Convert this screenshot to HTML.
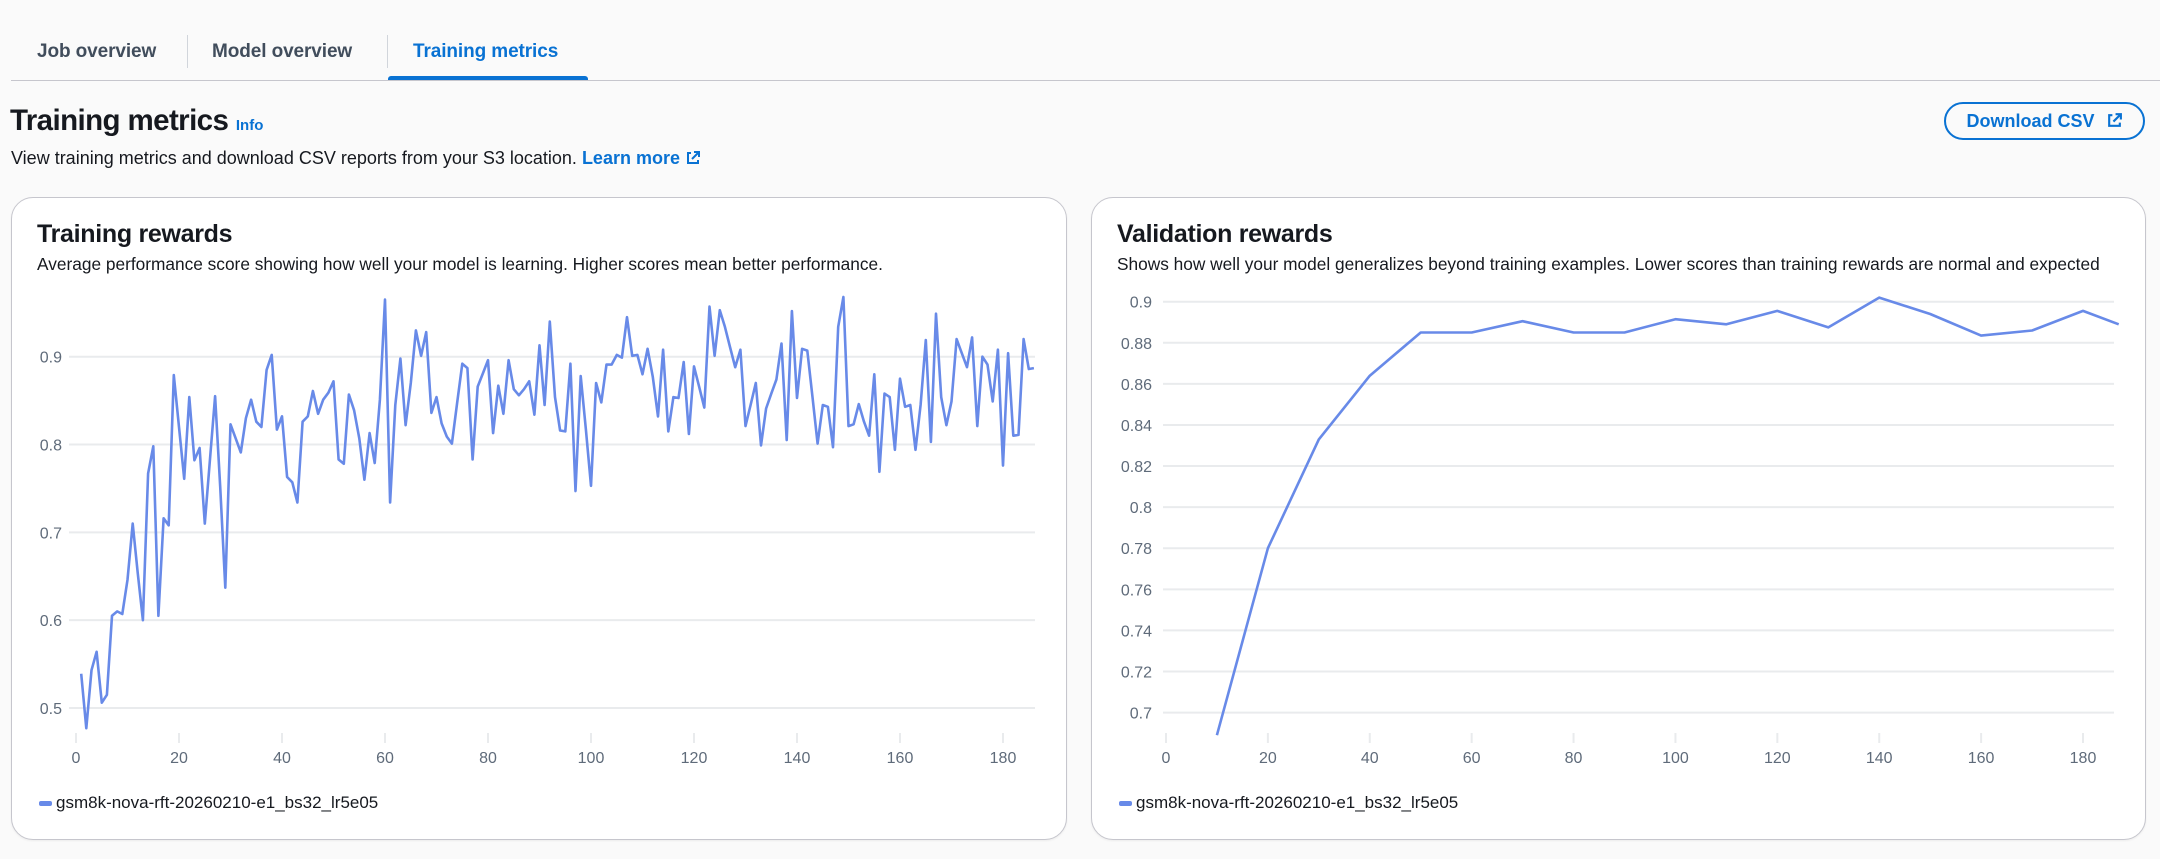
<!DOCTYPE html>
<html><head><meta charset="utf-8">
<style>
*{box-sizing:border-box;margin:0;padding:0}
body{width:2160px;height:859px;background:#fafafa;font-family:"Liberation Sans",sans-serif;color:#16191f;position:relative;overflow:hidden}
.abs{position:absolute;white-space:nowrap}
.tab{position:absolute;top:41px;font-size:19px;font-weight:bold;color:#414d5c;letter-spacing:-0.1px}
.sep{position:absolute;top:35px;width:1px;height:33px;background:#d1d5db}
.card{position:absolute;top:197px;height:643px;background:#fff;border:1px solid #c6c6cd;border-radius:22px;box-shadow:0 1px 2px rgba(0,0,0,0.06)}
.ctitle{position:absolute;left:25px;top:22px;font-size:25px;font-weight:bold;letter-spacing:-0.3px}
.cdesc{position:absolute;left:25px;top:56px;font-size:17.3px;color:#16191f;letter-spacing:0px}
.legend{position:absolute;left:27px;top:595px;font-size:17px;color:#16191f;white-space:nowrap}
.legend i{display:inline-block;width:13px;height:5px;background:#688ae8;border-radius:2px;vertical-align:middle;margin-right:4px}
svg text{font-family:"Liberation Sans",sans-serif;font-size:16px;fill:#5f6b7a}
</style></head><body>
<div class="tab" style="left:37px">Job overview</div>
<div class="sep" style="left:187px"></div>
<div class="tab" style="left:212px">Model overview</div>
<div class="sep" style="left:387px"></div>
<div class="tab" style="left:413px;color:#0972d3">Training metrics</div>
<div class="abs" style="left:388px;top:76px;width:200px;height:5px;background:#0972d3;border-radius:3px 3px 0 0"></div>
<div class="abs" style="left:11px;top:80px;width:2149px;height:1px;background:#c6c6cd"></div>

<div class="abs" style="left:10px;top:104px;font-size:29.5px;font-weight:bold;letter-spacing:-0.6px">Training metrics <span style="font-size:15px;color:#0972d3;letter-spacing:0">Info</span></div>
<div class="abs" style="left:11px;top:148px;font-size:18px;color:#16191f;letter-spacing:0px">View training metrics and download CSV reports from your S3 location. <span style="color:#0972d3;font-weight:bold">Learn more <svg width="16" height="16" viewBox="0 0 16 16" style="vertical-align:-2px"><path d="M6 3H3v10h10v-3M9 2h5v5M14 2L7 9" fill="none" stroke="#0972d3" stroke-width="2"/></svg></span></div>

<div class="abs" style="left:1944px;top:102px;width:201px;height:38px;border:2px solid #0972d3;border-radius:20px;color:#0972d3;font-weight:bold;font-size:18px;text-align:center;line-height:34px">Download CSV <svg width="17" height="17" viewBox="0 0 16 16" style="vertical-align:-2px;margin-left:6px"><path d="M6 3H3v10h10v-3M9 2h5v5M14 2L7 9" fill="none" stroke="#0972d3" stroke-width="2"/></svg></div>

<div class="card" style="left:11px;width:1056px">
  <div class="ctitle">Training rewards</div>
  <div class="cdesc">Average performance score showing how well your model is learning. Higher scores mean better performance.</div>
  <div class="legend"><i></i>gsm8k-nova-rft-20260210-e1_bs32_lr5e05</div>
</div>
<div class="card" style="left:1091px;width:1055px">
  <div class="ctitle">Validation rewards</div>
  <div class="cdesc">Shows how well your model generalizes beyond training examples. Lower scores than training rewards are normal and expected</div>
  <div class="legend"><i></i>gsm8k-nova-rft-20260210-e1_bs32_lr5e05</div>
</div>

<svg id="chart" width="2160" height="859" style="position:absolute;left:0;top:0"></svg>

<script>
const trainValues=[0.539,0.477,0.543,0.564,0.506,0.515,0.605,0.610,0.607,0.646,0.710,0.653,0.600,0.767,0.798,0.605,0.716,0.708,0.879,0.820,0.761,0.854,0.782,0.796,0.710,0.782,0.855,0.752,0.637,0.823,0.807,0.791,0.830,0.851,0.826,0.820,0.885,0.902,0.817,0.832,0.763,0.757,0.734,0.826,0.832,0.861,0.835,0.851,0.859,0.872,0.783,0.778,0.857,0.839,0.807,0.760,0.813,0.779,0.851,0.965,0.734,0.845,0.898,0.822,0.870,0.930,0.901,0.928,0.836,0.854,0.824,0.809,0.801,0.847,0.892,0.887,0.783,0.866,0.881,0.896,0.813,0.867,0.835,0.896,0.863,0.856,0.863,0.872,0.834,0.913,0.845,0.940,0.854,0.816,0.815,0.892,0.747,0.878,0.817,0.753,0.870,0.848,0.891,0.891,0.902,0.899,0.945,0.901,0.902,0.880,0.909,0.877,0.832,0.908,0.815,0.854,0.853,0.894,0.812,0.889,0.866,0.842,0.957,0.901,0.953,0.934,0.911,0.888,0.908,0.821,0.845,0.870,0.799,0.841,0.858,0.874,0.915,0.805,0.952,0.853,0.909,0.907,0.854,0.801,0.845,0.843,0.797,0.934,0.968,0.821,0.823,0.846,0.826,0.810,0.880,0.769,0.858,0.854,0.794,0.875,0.843,0.845,0.794,0.845,0.919,0.803,0.949,0.854,0.822,0.849,0.920,0.904,0.888,0.922,0.821,0.900,0.891,0.849,0.908,0.776,0.904,0.810,0.811,0.920,0.886,0.887];
const trainYTicks=[0.5,0.6,0.7,0.8,0.9];
const trainXTicks=[0,20,40,60,80,100,120,140,160,180];
const valSteps=[10,20,30,40,50,60,70,80,90,100,110,120,130,140,150,160,170,180,187];
const valValues=[0.689,0.780,0.833,0.864,0.885,0.885,0.8905,0.885,0.885,0.8915,0.889,0.8955,0.8875,0.902,0.894,0.8835,0.886,0.8955,0.889];
const valYTicks=[0.7,0.72,0.74,0.76,0.78,0.8,0.82,0.84,0.86,0.88,0.9];
const valXTicks=[0,20,40,60,80,100,120,140,160,180];

const svg=document.getElementById('chart');
const NS='http://www.w3.org/2000/svg';
function mk(tag,attrs){const e=document.createElementNS(NS,tag);for(const k in attrs)e.setAttribute(k,attrs[k]);svg.appendChild(e);return e;}

function drawChart(cfg,xs,ys,yTicks,xTicks,name){
  const X=v=>cfg.x0+(v-0)*(cfg.x180-cfg.x0)/180;
  const Y=v=>cfg.yA+(v-cfg.vA)*(cfg.yB-cfg.yA)/(cfg.vB-cfg.vA);
  yTicks.forEach(t=>{
    const l=mk('line',{x1:cfg.gx0,x2:cfg.gx1,y1:Y(t),y2:Y(t),stroke:'#e9ebed','stroke-width':2});
    
    
    const tx=mk('text',{x:cfg.lx,y:Y(t)+6,'text-anchor':'end'});
    tx.textContent=String(t);
    
    
  });
  xTicks.forEach(t=>{
    const l=mk('line',{x1:X(t),x2:X(t),y1:733,y2:743,stroke:'#e9ebed','stroke-width':2});
    
    
    const tx=mk('text',{x:X(t),y:763,'text-anchor':'middle'});
    tx.textContent=String(t);
    
    
  });
  const d=xs.map((x,i)=>(i?'L':'M')+X(x).toFixed(1)+' '+Y(ys[i]).toFixed(1)).join(' ');
  const p=mk('path',{d:d,fill:'none',stroke:'#688ae8','stroke-width':2.6,'stroke-linejoin':'round'});
  
  
}
const trainSteps=trainValues.map((v,i)=>i+1);
drawChart({x0:76,x180:1003,yA:356.7,vA:0.9,yB:708,vB:0.5,gx0:69,gx1:1035,lx:62},trainSteps,trainValues,trainYTicks,trainXTicks,'training');
drawChart({x0:1166,x180:2083,yA:301.7,vA:0.9,yB:712.6,vB:0.7,gx0:1163,gx1:2114,lx:1152},valSteps,valValues,valYTicks,valXTicks,'validation');
</script>
</body></html>
